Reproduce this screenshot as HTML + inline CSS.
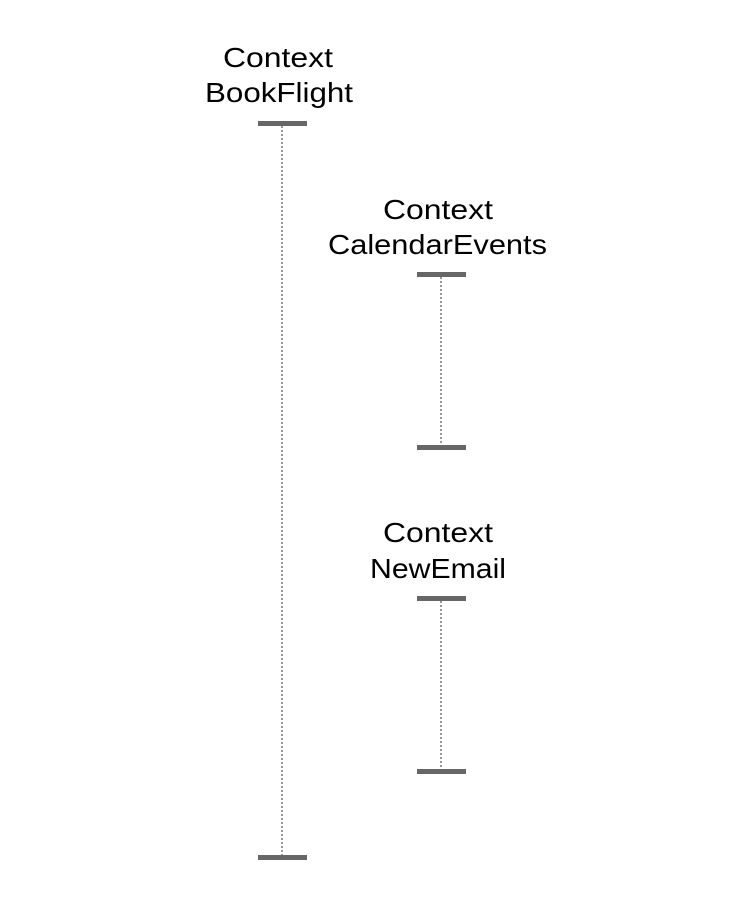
<!DOCTYPE html>
<html><head><style>
body{margin:0;background:#fff;}
</style></head><body>
<svg width="740" height="910" xmlns="http://www.w3.org/2000/svg">
<g font-family="Liberation Sans, sans-serif" font-size="28" fill="#000" text-anchor="middle" lengthAdjust="spacingAndGlyphs">
<text x="278" y="67" textLength="110" lengthAdjust="spacingAndGlyphs">Context</text>
<text x="279" y="102" textLength="148" lengthAdjust="spacingAndGlyphs">BookFlight</text>
<text x="438" y="219" textLength="110" lengthAdjust="spacingAndGlyphs">Context</text>
<text x="437.5" y="254" textLength="219" lengthAdjust="spacingAndGlyphs">CalendarEvents</text>
<text x="438" y="542" textLength="110" lengthAdjust="spacingAndGlyphs">Context</text>
<text x="438" y="578" textLength="136" lengthAdjust="spacingAndGlyphs">NewEmail</text>
</g>
<g stroke="#999" stroke-width="2" stroke-dasharray="2,2">
<line x1="282" y1="126" x2="282" y2="855"/>
<line x1="441" y1="277" x2="441" y2="445"/>
<line x1="441" y1="601" x2="441" y2="769"/>
</g>
<g fill="#666">
<rect x="258" y="121" width="49" height="5"/>
<rect x="258" y="855" width="49" height="5"/>
<rect x="417" y="272" width="49" height="5"/>
<rect x="417" y="445" width="49" height="5"/>
<rect x="417" y="596" width="49" height="5"/>
<rect x="417" y="769" width="49" height="5"/>
</g>
</svg>
</body></html>
